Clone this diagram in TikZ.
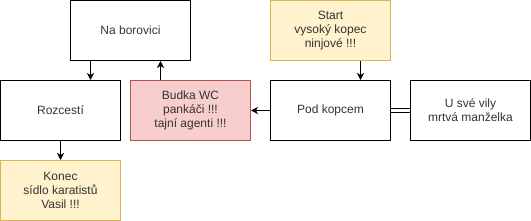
\documentclass[tikz,border=0pt]{standalone}
\usepackage{fontspec}
\setmainfont{Liberation Sans}
\usetikzlibrary{arrows.meta}
\definecolor{yelfill}{HTML}{FFF2CC}
\definecolor{yeldraw}{HTML}{D6B656}
\definecolor{redfill}{HTML}{F8CECC}
\definecolor{reddraw}{HTML}{B85450}
\begin{document}
\begin{tikzpicture}[
  x=1pt, y=-1pt,
  box/.style={draw, line width=1pt, minimum width=120pt, minimum height=60pt, align=center,
    inner sep=0pt, text=black!80, font=\fontsize{12}{14}\selectfont},
  start/.style={box, fill=yelfill, draw=yeldraw},
  danger/.style={box, fill=redfill, draw=reddraw},
  arrow/.style={-{Stealth[length=7pt, width=7pt, inset=2pt]}, line width=1pt}
]
\useasboundingbox (0,0) rectangle (531,221);
\node[box] (borovice) at (130.5,30.5) {Na borovici};
\node[box] (rozcesti) at (60.5,110.5) {Rozcestí};
\node[start] (konec) at (60.5,190.5) {Konec\\sídlo karatistů\\Vasil !!!};
\node[danger] (budka) at (190.5,110.5) {Budka WC\\pankáči !!!\\tajní agenti !!!};
\node[start] (start) at (330.5,30.5) {Start\\vysoký kopec\\ninjové !!!};
\node[box] (kopec) at (330.5,110.5) {Pod kopcem};
\node[box] (vila) at (470.5,110.5) {U své vily\\mrtvá manželka};
\draw[arrow] (borovice.south -| 90.5,0) -- (rozcesti.north -| 90.5,0);
\draw[arrow] (budka.north -| 160.5,0) -- (borovice.south -| 160.5,0);
\draw[arrow] (kopec.west) -- (budka.east);
\draw[arrow] (start.south -| 360.5,0) -- (kopec.north -| 360.5,0);
\draw[arrow] (rozcesti.south) -- (konec.north);
\draw[line width=1pt, double, double distance=3pt] (kopec.east) -- (vila.west);
\end{tikzpicture}
\end{document}
